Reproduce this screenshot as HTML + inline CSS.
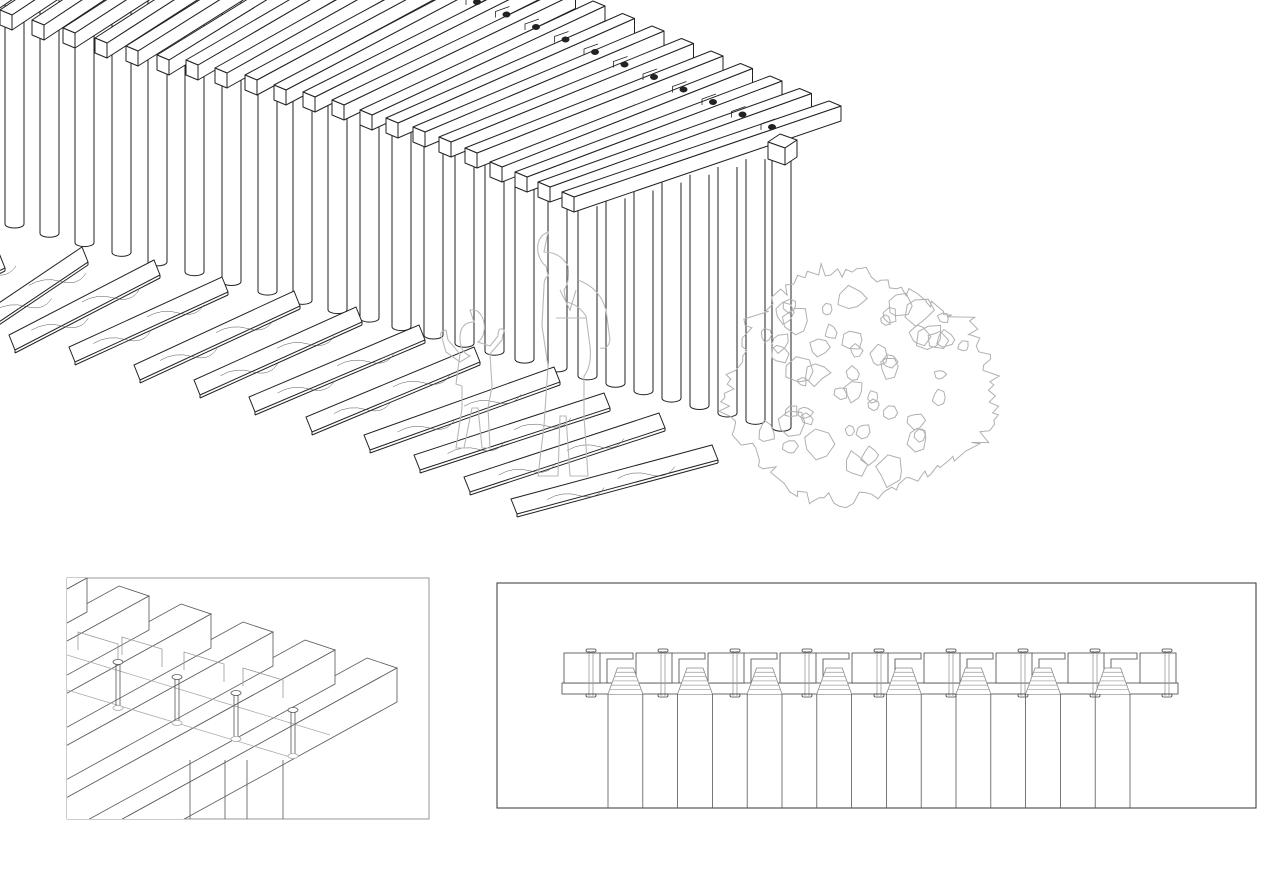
<!DOCTYPE html>
<html><head><meta charset="utf-8"><style>
html,body{margin:0;padding:0;background:#fff;width:1280px;height:890px;overflow:hidden}
svg{display:block}
</style></head><body>
<svg id="s" width="1280" height="890" viewBox="0 0 1280 890" xmlns="http://www.w3.org/2000/svg" style="overflow:hidden">
<defs><clipPath id="cb"><rect x="67" y="578" width="362" height="241"/></clipPath>
<clipPath id="cf"><rect x="0" y="0" width="1280" height="890"/></clipPath></defs>
<g clip-path="url(#cf)">
<g id="posts" fill="#fff" stroke="#222" stroke-width="1"></g>
<g id="planks" fill="#fff" stroke="#222" stroke-width="1"></g>
<g id="people" fill="none" stroke="#b8b8b8" stroke-width="1.1"></g>
<g id="bush" fill="none" stroke="#b0b0b0" stroke-width="1"></g>
<g id="beams" fill="#fff" stroke="#222" stroke-width="1" stroke-linejoin="round"></g>
<rect x="67" y="578" width="362" height="241" fill="none" stroke="#999" stroke-width="1"/>
<g id="det" clip-path="url(#cb)" fill="#fff" stroke="#555" stroke-width="0.8"></g>
<rect x="497" y="583" width="759" height="225" fill="none" stroke="#333" stroke-width="1"/>
<g id="sec" fill="none" stroke="#444" stroke-width="0.8"></g>
</g>
</svg>
<script>
const NS="http://www.w3.org/2000/svg";
function el(g,t,a){const e=document.createElementNS(NS,t);for(const k in a)e.setAttribute(k,a[k]);document.getElementById(g).appendChild(e);return e;}
function poly(g,pts,extra){const a={points:pts.map(p=>p[0].toFixed(1)+","+p[1].toFixed(1)).join(" ")};Object.assign(a,extra||{});return el(g,"polygon",a);}
function line(g,x1,y1,x2,y2,extra){const a={x1,y1,x2,y2};Object.assign(a,extra||{});return el(g,"line",a);}
// posts
const px=[5,40,75,112,148,185,222,258,293,328,360,392,424,455,485,515,548,578,606,634,662,690,718,746,772];
px.forEach(x=>{const w=19;const b=228+0.265*(x-20);const t=x<560?0:207-0.28*(x-575);
 el("posts","path",{d:`M${x} ${t} V${b} A${w/2} 4 0 0 0 ${x+w} ${b} V${t}`});});
// planks
const pl=[[-60,300,5,268],[-10,328,88,262],[15,350,160,275],[75,362,228,292],[140,380,300,306],[200,395,362,322],[255,412,425,340],[312,432,480,362],[370,450,560,382],[420,470,610,408],[470,492,665,428],[517,514,718,460]];
pl.forEach(([x1,y1,x2,y2])=>{const s=[-6,-15];
 poly("planks",[[x1,y1],[x2,y2],[x2+s[0],y2+s[1]],[x1+s[0],y1+s[1]]]);
 line("planks",x1,y1,x1,y1+3);line("planks",x1,y1+3,x2,y2+3);line("planks",x2,y2,x2,y2+3);
 for(let k=0;k<2;k++){const t=0.25+0.35*k;const mx=x1+(x2-x1)*t, my=y1+(y2-y1)*t-6-k*2;
  el("planks","path",{d:`M${mx-20} ${my+5} q15 -9 32 -4 t25 -8`,fill:"none","stroke-width":"0.5",stroke:"#555"});}
});
// beams
const fr=[[-30,0],[0,10],[32,20],[63,28],[95,38],[126,46],[157,55],[186,60],[215,68],[245,75],[274,85],[303,92],[332,100],[360,110],[386,118],[413,127],[439,137],[465,148],[490,162],[515,172],[538,182],[562,192]];
const n=fr.length;
fr.forEach(([x,y],i)=>{const k=n-1-i;const E=[841-29.5*k,106-12.5*k];const w=[12,5],h=[0,15];
 const u=[E[0]-x-w[0],E[1]-y-w[1]];
 const A=[x,y],B=[x+w[0],y+w[1]],C=[E[0],E[1]],D=[x+u[0],y+u[1]];
 poly("beams",[B,C,[C[0],C[1]+h[1]],[B[0],B[1]+h[1]]]);
 poly("beams",[A,B,C,D]);
 poly("beams",[A,B,[B[0],B[1]+h[1]],[A[0],A[1]+h[1]]]);
 const bx=C[0]-72,by=C[1]+22;
 if(i>6){el("beams","path",{d:`M${bx-8} ${by+2} l0 -6 l14 -5`,fill:"none","stroke-width":"0.8"});
 el("beams","ellipse",{cx:bx+3,cy:by-1,rx:3.5,ry:2.5,fill:"#222"});}
});
poly("beams",[[768,142],[780,134],[797,140],[785,148]]);
poly("beams",[[768,142],[785,148],[785,165],[768,159]]);
poly("beams",[[785,148],[797,140],[797,157],[785,165]]);
// people
const P="people";
el(P,"path",{d:"M548 232 q-12 5 -10 20 q2 10 8 14 l2 10 q-4 2 -4 10 l-2 40 l6 40 l-4 60 l-6 50 l20 0 l2 -60 l6 0 l4 60 l18 0 l-4 -60 l0 -40 q8 -10 6 -30 l-4 -30 q-8 -12 -20 -14 l-2 -12 q6 -8 4 -24 q-8 -14 -24 -14z"});
el(P,"path",{d:"M578 280 q22 8 28 30 l4 30 q-2 10 -10 8 M556 318 h30 M560 290 l10 20 l6 -20"});
el(P,"path",{d:"M474 322 q-14 0 -14 16 q0 14 10 18 l-10 6 l-14 -10 l-4 -14 q-4 -6 4 -8 l2 10 l12 14 l-4 30 l6 2 l0 22 l-6 40 l8 0 l8 -40 l6 0 l4 40 l8 0 l-2 -40 l4 -22 l-2 -32 l12 -14 l2 -10 q-6 -4 -6 6 l-8 10 l-12 -4 q8 -6 6 -20 q-4 -14 -14 -12z"});
// bush
(function(){let d="";const cx=860,cy=385;let seed=7;const r=()=>{seed=(seed*9301+49297)%233280;return seed/233280;};
 for(let a=0;a<=Math.PI*2+0.01;a+=0.045){const rx=125+r()*18-(a>Math.PI*1.2&&a<Math.PI*1.8?20:0),ry=105+r()*16;
  const x=cx+Math.cos(a)*rx*(1+0.05*Math.sin(5*a)),y=cy+Math.sin(a)*ry*(1+0.08*Math.cos(3*a));d+=(d?"L":"M")+x.toFixed(1)+" "+y.toFixed(1);}
 el("bush","path",{d:d+"Z"});
 for(let i=0;i<60;i++){const x=cx-110+r()*220,y=cy-90+r()*180;if(((x-cx)/115)**2+((y-cy)/100)**2>1)continue;let p="";const s=5+r()*10;
  for(let k=0;k<7;k++){const a=k/7*6.28;p+=(p?"L":"M")+(x+Math.cos(a)*s*(0.6+r()*0.6)).toFixed(1)+" "+(y+Math.sin(a)*s*(0.6+r()*0.6)).toFixed(1);}
  el("bush","path",{d:p+"Z"});}
})();
// detail box
for(let k=0;k<6;k++){const A=[367-62*k,658-18*k],B=[397-62*k,668-18*k];const h=34;const dv=[-1,0.55];const L=600;
 const Af=[A[0]+dv[0]*L,A[1]+dv[1]*L],Bf=[B[0]+dv[0]*L,B[1]+dv[1]*L];
 poly("det",[A,B,Bf,Af]);
 poly("det",[B,[B[0],B[1]+h],[Bf[0],Bf[1]+h],Bf]);
}
line("det",67,690,290,757,{stroke:"#aaa"});line("det",67,655,330,735,{stroke:"#aaa"});
[[78,650],[122,655],[184,670],[243,686]].forEach(([x,y])=>{el("det","path",{d:`M${x} ${y} v-18 l40 12 v18`,fill:"none",stroke:"#999"});});
[[118,662],[177,677],[236,693],[293,710]].forEach(([x,y])=>{
 el("det","ellipse",{cx:x,cy:y,rx:5,ry:2.5});line("det",x-2,y+2,x-2,y+45);line("det",x+2,y+2,x+2,y+45);
 el("det","ellipse",{cx:x,cy:y+46,rx:5,ry:2.5,stroke:"#aaa"});});
[190,225,247,283].forEach(x=>line("det",x,760,x,820));
// section
const S="sec";
el(S,"rect",{x:562,y:683,width:616,height:11});
for(let k=0;k<9;k++){const bx=564+72*k;
 el(S,"rect",{x:bx,y:653,width:36,height:30,fill:"#fff"});
 if(k<8)el(S,"path",{d:`M${bx+36} 653 H${bx+69} V659 H${bx+43} V683`});
 line(S,bx+25,651,bx+25,696,{stroke:"#999"});line(S,bx+29,651,bx+29,696,{stroke:"#999"});
 el(S,"rect",{x:bx+22,y:649,width:10,height:3,rx:1.5});el(S,"rect",{x:bx+22,y:694,width:10,height:3,rx:1.5});
}
const pxs=[];for(let i=0;i<16;i++)pxs.push(608+34.8*i);
pxs.forEach(x=>line(S,x,694,x,808,{stroke:"#555"}));
for(let i=0;i<16;i+=2){const x=pxs[i],x2=pxs[i+1];const m=(x+x2)/2;
 el(S,"path",{d:`M${x} 694 L${m-8} 668 H${m+8} L${x2} 694`,fill:"#fff",stroke:"#888"});
 for(let j=1;j<6;j++){const y=668+j*4.3;const t=(y-668)/26;line(S,m-8-t*(m-8-x),y,m+8+t*(x2-m-8),y,{stroke:"#aaa"});}
}
</script>
</body></html>
